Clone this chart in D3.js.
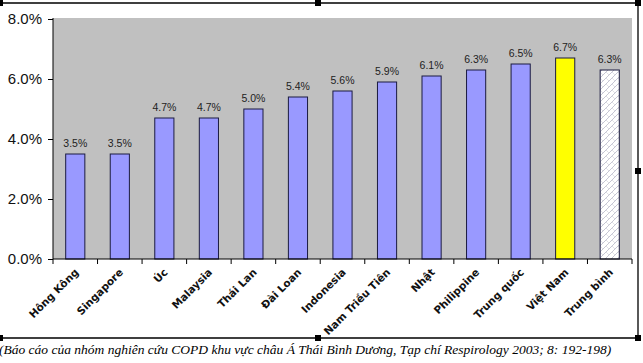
<!DOCTYPE html>
<html>
<head>
<meta charset="utf-8">
<script src="https://cdn.jsdelivr.net/npm/d3@7"></script>
<style>
  body { margin: 0; background: #fff; }
  svg { display: block; }
</style>
</head>
<body>
<div id="chart"></div>
<script>
// data
var countries = ["Hông Kông", "Singapore", "Úc", "Malaysia", "Thái Lan", "Đài Loan", "Indonesia",
                 "Nam Triều Tiên", "Nhật", "Philippine", "Trung quốc", "Việt Nam", "Trung bình"];
var rates = [3.5, 3.5, 4.7, 4.7, 5.0, 5.4, 5.6, 5.9, 6.1, 6.3, 6.5, 6.7, 6.3];
var yTicks = [0, 2, 4, 6, 8];
var caption = "(Báo cáo của nhóm nghiên cứu COPD khu vực châu Á Thái Bình Dương, Tạp chí Respirology 2003; 8: 192-198)";

var svgWidth = 643, svgHeight = 363;
var plot = { left: 53, top: 18, right: 632, bottom: 259 };

var svg = d3.select("#chart").append("svg")
  .attr("width", svgWidth).attr("height", svgHeight);

// hatch pattern for the average bar
var defs = svg.append("defs");
var pat = defs.append("pattern")
  .attr("id", "hatch").attr("patternUnits", "userSpaceOnUse")
  .attr("width", 6).attr("height", 6);
pat.append("rect").attr("width", 6).attr("height", 6).attr("fill", "#fff");
pat.append("path").attr("d", "M0,6 L6,0 M-1,1 L1,-1 M5,7 L7,5")
  .attr("stroke", "#b8b8c8").attr("stroke-width", 0.8);
pat.append("path").attr("d", "M0,0 L3,3")
  .attr("stroke", "#cfcfd8").attr("stroke-width", 0.6);

//////////////////// frame around the chart object ////////////////////
svg.append("path")
  .attr("d", `M0,3 H638 V338 H0`)
  .attr("fill", "none").attr("stroke", "#000").attr("stroke-width", 1.3);
var handles = [[0, 3], [318, 3], [638, 3], [638, 171], [0, 338], [318, 338], [638, 338]];
svg.selectAll("rect.handle").data(handles).enter().append("rect")
  .attr("class", "handle")
  .attr("x", d => d[0] - 3).attr("y", d => d[1] - 3)
  .attr("width", 6).attr("height", 6).attr("fill", "#000");

//////////////////// scales ////////////////////
var xScale = d3.scaleBand()
  .domain(countries)
  .range([plot.left, plot.right])
  .paddingInner(0.57).paddingOuter(0.285);

var yScale = d3.scaleLinear()
  .domain([0, 8])
  .range([plot.bottom, plot.top + 1]);

svg.append("rect")
  .attr("x", plot.left).attr("y", plot.top)
  .attr("width", plot.right - plot.left).attr("height", plot.bottom - plot.top)
  .attr("fill", "#c0c0c0");

//////////////////// bars ////////////////////
var n = countries.length;
function barFill(i) {
  if (i === n - 1) return "url(#hatch)";
  if (i === n - 2) return "#ffff00";
  return "#9999ff";
}

svg.selectAll("rect.bar")
  .data(rates)
  .enter()
  .append("rect")
  .attr("class", "bar")
  .attr("x", (d, i) => xScale(countries[i]))
  .attr("y", d => yScale(d))
  .attr("width", xScale.bandwidth())
  .attr("height", d => yScale(0) - yScale(d))
  .attr("fill", (d, i) => barFill(i))
  .attr("stroke", "#1a1a40")
  .attr("stroke-width", 1);

svg.selectAll("text.val")
  .data(rates)
  .enter()
  .append("text")
  .attr("class", "val")
  .attr("x", (d, i) => xScale(countries[i]) + xScale.bandwidth() / 2)
  .attr("y", d => yScale(d) - 7)
  .attr("text-anchor", "middle")
  .attr("font-family", "Arial, 'Liberation Sans', sans-serif")
  .attr("font-size", 10.5)
  .attr("fill", "#222")
  .text(d => d.toFixed(1) + "%");

//////////////////// axes ////////////////////
var yAxis = d3.axisLeft(yScale).tickValues(yTicks).tickSize(5).tickPadding(6)
  .tickFormat(d => d.toFixed(1) + "%");
var yG = svg.append("g")
  .attr("transform", `translate(${plot.left},0)`)
  .call(yAxis);
yG.select(".domain").attr("d", `M0,${plot.top}V${plot.bottom}`).attr("stroke", "#000");
yG.selectAll("text")
  .attr("font-family", "Arial, 'Liberation Sans', sans-serif")
  .attr("font-size", 15).attr("fill", "#111");

var xG = svg.append("g")
  .attr("transform", `translate(0,${plot.bottom})`);
xG.append("line")
  .attr("x1", plot.left).attr("x2", plot.right)
  .attr("stroke", "#000");
var step = xScale.step();
var bounds = d3.range(n + 1).map(i => plot.left + i * step);
xG.selectAll("line.tick")
  .data(bounds).enter().append("line")
  .attr("class", "tick")
  .attr("x1", d => d).attr("x2", d => d)
  .attr("y1", 0).attr("y2", 5)
  .attr("stroke", "#000");

xG.selectAll("text.cat")
  .data(countries).enter().append("text")
  .attr("class", "cat")
  .attr("text-anchor", "end")
  .attr("transform", d => `translate(${xScale(d) + xScale.bandwidth() / 2 + 4},14) rotate(-45)`)
  .attr("font-family", "'DejaVu Sans', Verdana, sans-serif")
  .attr("font-weight", "bold")
  .attr("font-size", 10.5)
  .attr("fill", "#111")
  .text(d => d);

//////////////////// caption ////////////////////
svg.append("text")
  .attr("x", -1).attr("y", 354)
  .attr("font-family", "'Liberation Serif', 'Times New Roman', serif")
  .attr("font-style", "italic")
  .attr("font-size", 13.5)
  .attr("fill", "#000")
  .text(caption);
</script>
</body>
</html>
